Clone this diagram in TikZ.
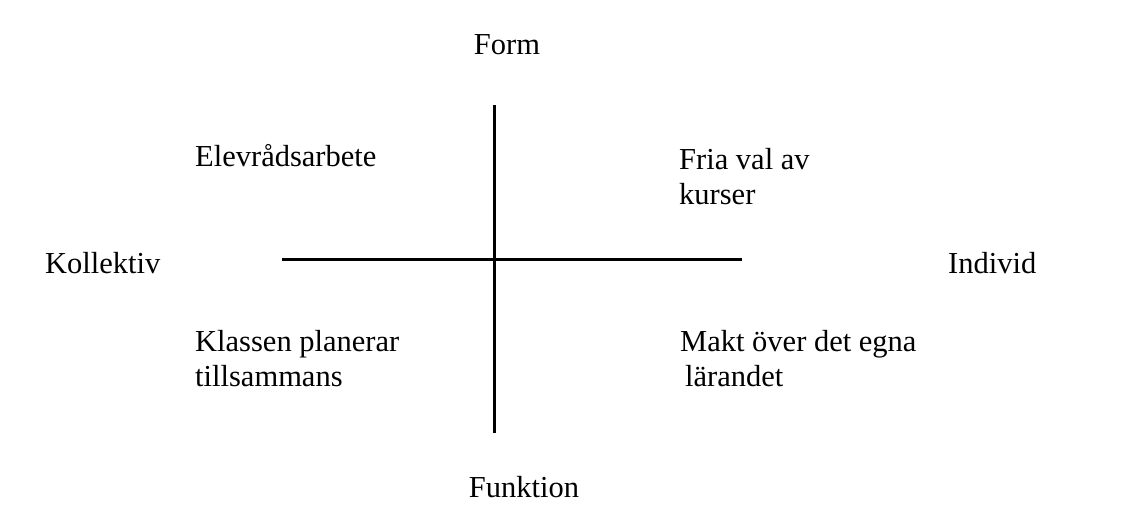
\documentclass[tikz,border=0pt]{standalone}
\usepackage{fontspec}
\setmainfont{Liberation Serif}
\begin{document}
\begin{tikzpicture}[x=1pt, y=-1pt,
    lbl/.style={inner sep=0pt, anchor=base west, align=left,
        font=\fontsize{30.5}{35}\selectfont},
    axis/.style={line width=3pt, black}]
    \useasboundingbox (0,0) rectangle (1147,514);

    % Axlar
    \coordinate (top) at (494,105);
    \coordinate (bottom) at (494,433);
    \coordinate (left) at (282,259);
    \coordinate (right) at (742,259);
    \draw[axis] (top) -- (bottom);
    \draw[axis] (left) -- (right);

    % Dimensioner
    \node[lbl, anchor=base] (form) at (507,54) {Form};
    \node[lbl, anchor=base] (funktion) at (524,497) {Funktion};
    \node[lbl] (kollektiv) at (45,273) {Kollektiv};
    \node[lbl] (individ) at (948,273) {Individ};

    % Kvadranter (ankare vid sista radens baslinje)
    \node[lbl] (elevrad) at (195,166) {Elevrådsarbete};
    \node[lbl] (fria) at (679,204) {Fria val av\\kurser};
    \node[lbl] (klassen) at (195,386) {Klassen planerar\\tillsammans};
    \node[lbl] (makt) at (680,386) {Makt över det egna\\\hspace*{5pt}lärandet};
\end{tikzpicture}
\end{document}
